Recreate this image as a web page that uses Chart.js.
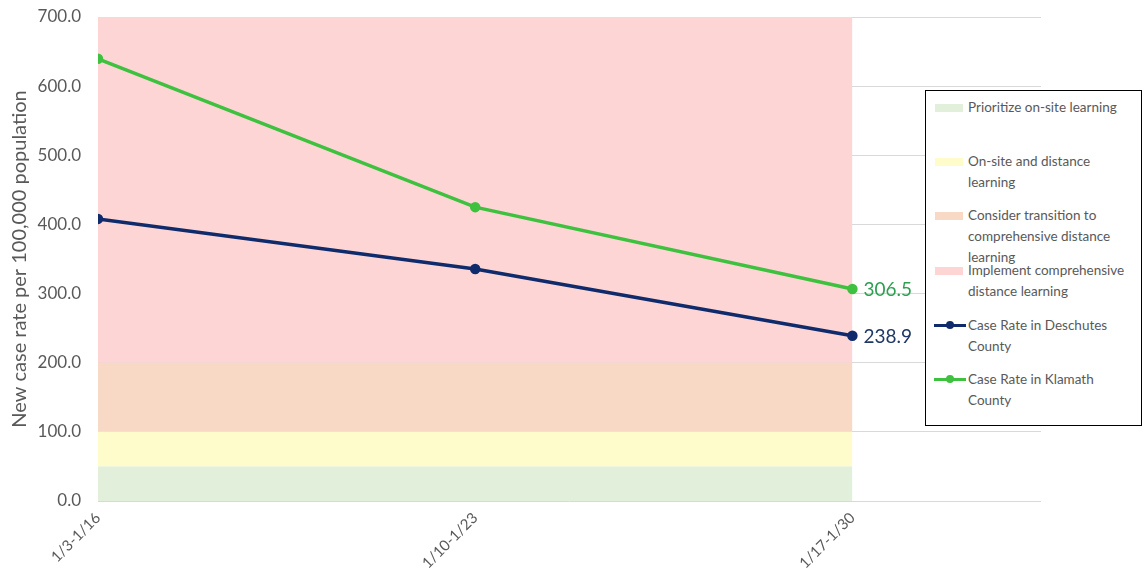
<!DOCTYPE html>
<html>
<head>
<meta charset="utf-8">
<script src="https://cdn.jsdelivr.net/npm/chart.js@4"></script>
<style>
  body { margin: 0; background: #fff; font-family: Lato, "Open Sans", sans-serif; }
  #wrap { position: relative; width: 1148px; height: 586px; }
  #legend { position: absolute; left: 925px; top: 90px; width: 217px; height: 336px; border: 1px solid #000; background: #fff; box-sizing: border-box; }
  .item { position: absolute; left: 0; width: 216px; }
  .sw { position: absolute; left: 9px; width: 28px; height: 8px; }
  .ln { position: absolute; left: 8px; width: 32px; height: 3px; }
  .ln i { position: absolute; left: 12px; top: -3px; width: 8px; height: 8px; border-radius: 50%; background: inherit; }
  .txt { position: absolute; left: 42px; font-size: 13.5px; line-height: 21px; color: #595959; white-space: nowrap; }
</style>
</head>
<body>
<div id="wrap">
  <canvas id="chart" width="1148" height="586"></canvas>
  <div id="legend"></div>
</div>
<script>
// Week ranges and case rates per 100,000
const weeks = ['1/3-1/16', '1/10-1/23', '1/17-1/30'];
const deschutes = [408.0, 335.5, 238.9];
const klamath = [639.5, 425.0, 306.5];

// Guidance bands (upper bound of each band)
const bandNames = [
  'Prioritize on-site learning',
  'On-site and distance learning',
  'Consider transition to comprehensive distance learning',
  'Implement comprehensive distance learning'
];
const bandTops = [50, 100, 200, 700];
const bandColors = ['#e2efda', '#fefccb', '#f8d9c6', '#fdd5d5'];

const yTicks = [0, 100, 200, 300, 400, 500, 600, 700];

const navy = '#0f2b6b';
const green = '#3ec13e';
const font = 'Lato, "Open Sans", sans-serif';

function pts(values) {
  return values.map((v, i) => ({ x: i, y: v }));
}

const bandSets = bandTops.map((top, i) => ({
  label: bandNames[i],
  data: pts(weeks.map(() => top)),
  backgroundColor: bandColors[i],
  borderWidth: 0,
  pointRadius: 0,
  fill: i === 0 ? 'origin' : '-1',
  order: 10
}));

// Value labels beside the last points
const endLabels = {
  id: 'endLabels',
  afterDatasetsDraw(chart) {
    const ctx = chart.ctx;
    ctx.save();
    ctx.font = '19px ' + font;
    ctx.textBaseline = 'middle';
    [[4, klamath, '#2e9f52'], [5, deschutes, '#1f3864']].forEach(([idx, vals, col]) => {
      const meta = chart.getDatasetMeta(idx);
      const p = meta.data[vals.length - 1];
      ctx.fillStyle = col;
      ctx.fillText(vals[vals.length - 1].toFixed(1), p.x + 11, p.y + 1);
    });
    ctx.restore();
  }
};

new Chart(document.getElementById('chart'), {
  type: 'line',
  data: {
    datasets: [
      ...bandSets,
      {
        label: 'Case Rate in Klamath County',
        data: pts(klamath),
        borderColor: green,
        backgroundColor: green,
        borderWidth: 3.5,
        pointRadius: 3.5,
        fill: false,
        order: 1
      },
      {
        label: 'Case Rate in Deschutes County',
        data: pts(deschutes),
        borderColor: navy,
        backgroundColor: navy,
        borderWidth: 3.5,
        pointRadius: 3.5,
        fill: false,
        order: 0
      }
    ]
  },
  options: {
    responsive: false,
    animation: false,
    layout: { padding: { left: 8, right: 107, top: 17, bottom: 0 } },
    plugins: { legend: { display: false }, tooltip: { enabled: false } },
    scales: {
      x: {
        type: 'linear',
        min: 0,
        max: 2.5,
        afterBuildTicks: s => { s.ticks = weeks.map((w, i) => ({ value: i })); },
        afterFit: s => { s.height = 85; s.paddingLeft = 0; s.paddingRight = 0; },
        grid: { display: false },
        border: { display: false },
        ticks: {
          callback: v => weeks[v],
          maxRotation: 45,
          minRotation: 45,
          color: '#595959',
          font: { family: font, size: 15 },
          padding: 0
        }
      },
      y: {
        min: 0,
        max: 700,
        afterBuildTicks: s => { s.ticks = yTicks.map(v => ({ value: v })); },
        afterFit: s => { s.width = 90; s.paddingTop = 0; s.paddingBottom = 0; },
        grid: { color: '#d9d9d9', lineWidth: 1, drawTicks: false },
        border: { display: false },
        ticks: {
          callback: v => v.toFixed(1),
          color: '#595959',
          font: { family: font, size: 17 },
          padding: 17
        },
        title: {
          display: true,
          text: 'New case rate per 100,000 population',
          color: '#595959',
          font: { family: font, size: 20 },
          padding: 0
        }
      }
    }
  },
  plugins: [endLabels]
});

// Legend built as HTML so multi-line entries sit like the original
const legendItems = [
  { type: 'band', color: bandColors[0], lines: ['Prioritize on-site learning'], top: 6 },
  { type: 'band', color: bandColors[1], lines: ['On-site and distance', 'learning'], top: 60 },
  { type: 'band', color: bandColors[2], lines: ['Consider transition to', 'comprehensive distance', 'learning'], top: 114 },
  { type: 'band', color: bandColors[3], lines: ['Implement comprehensive', 'distance learning'], top: 169 },
  { type: 'line', color: navy, lines: ['Case Rate in Deschutes', 'County'], top: 224 },
  { type: 'line', color: green, lines: ['Case Rate in Klamath', 'County'], top: 278 }
];
const legend = document.getElementById('legend');
legendItems.forEach(it => {
  const d = document.createElement('div');
  d.className = 'item';
  d.style.top = it.top + 'px';
  const mark = document.createElement('div');
  if (it.type === 'band') {
    mark.className = 'sw';
    mark.style.top = '7px';
  } else {
    mark.className = 'ln';
    mark.style.top = '9px';
    mark.appendChild(document.createElement('i'));
  }
  mark.style.background = it.color;
  d.appendChild(mark);
  const t = document.createElement('div');
  t.className = 'txt';
  t.style.top = '0px';
  t.innerHTML = it.lines.join('<br>');
  d.appendChild(t);
  legend.appendChild(d);
});
</script>
</body>
</html>
